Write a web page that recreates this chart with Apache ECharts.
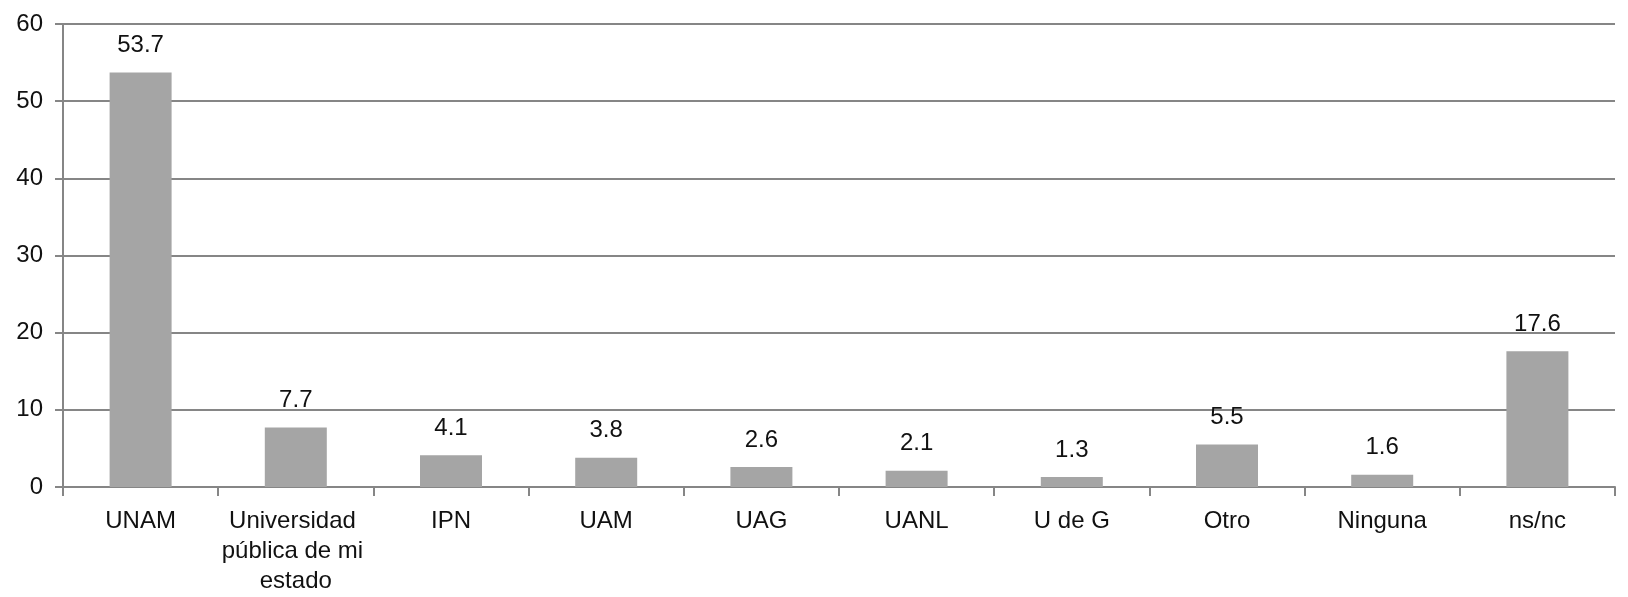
<!DOCTYPE html>
<html><head><meta charset="utf-8">
<script src="https://cdn.jsdelivr.net/npm/echarts@6/dist/echarts.min.js"></script>
<style>html,body{margin:0;padding:0;background:#fff}#c{width:1628px;height:597px}</style>
</head><body><div id="c"></div>
<script>
const categories = ["UNAM","Universidad pública de mi estado","IPN","UAM","UAG","UANL","U de G","Otro","Ninguna","ns/nc"];
const values = [53.7,7.7,4.1,3.8,2.6,2.1,1.3,5.5,1.6,17.6];
const yTicks = {min:0,max:60,interval:10};
const font = "'Liberation Sans', Arial, sans-serif";
const chart = echarts.init(document.getElementById('c'));
chart.setOption({
  animation:false,
  grid:{left:63,right:13,top:24,bottom:110},
  xAxis:{type:'category',data:categories,
    axisLine:{lineStyle:{color:'#868686',width:2}},
    axisTick:{show:true,length:9,lineStyle:{color:'#868686',width:2}},
    axisLabel:{color:'#111',fontFamily:font,fontSize:24,margin:19,lineHeight:30,width:160,overflow:'break',interval:0}},
  yAxis:{type:'value',min:yTicks.min,max:yTicks.max,interval:yTicks.interval,
    axisLine:{show:true,lineStyle:{color:'#868686',width:2}},
    axisTick:{show:true,length:8,lineStyle:{color:'#868686',width:2}},
    splitLine:{lineStyle:{color:'#868686',width:2}},
    axisLabel:{color:'#111',fontFamily:font,fontSize:24,margin:20}},
  series:[{type:'bar',data:values,barWidth:62,itemStyle:{color:'#a5a5a5'},
    label:{show:true,position:'top',distance:15,color:'#111',fontFamily:font,fontSize:24}}]
});
</script></body></html>
